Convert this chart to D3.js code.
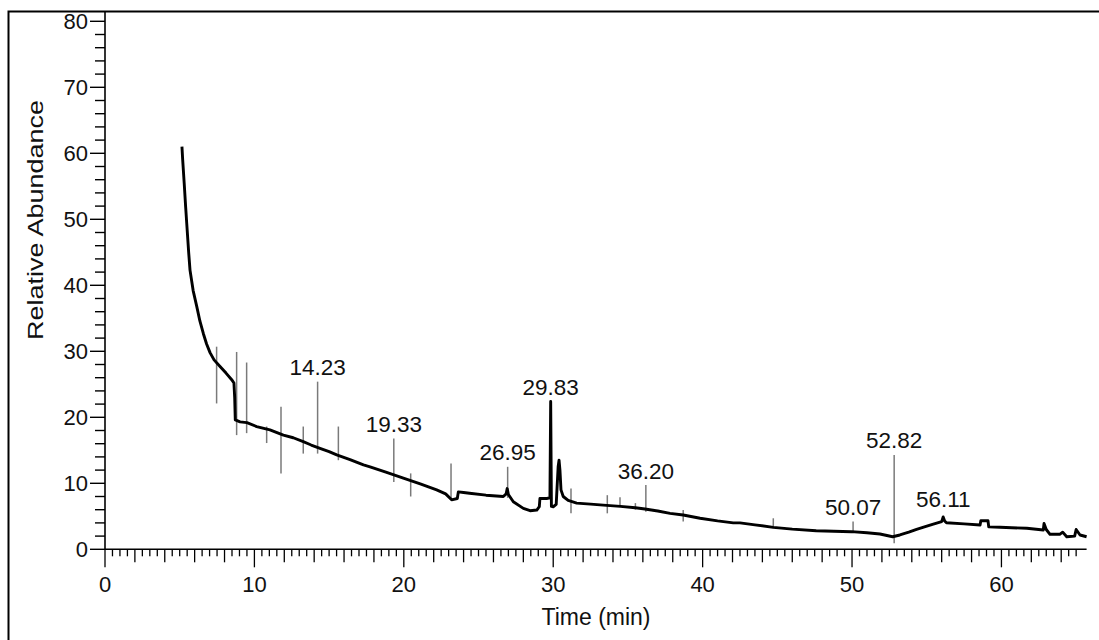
<!DOCTYPE html>
<html>
<head>
<meta charset="utf-8">
<script src="https://cdn.jsdelivr.net/npm/d3@7"></script>
<style>
  html, body { margin: 0; padding: 0; background: #fff; }
  svg { display: block; }
  text { font-family: "Liberation Sans", Arial, sans-serif; fill: #111; }
</style>
</head>
<body>
<svg id="chart" width="1099" height="640"></svg>
<script>
// ---- Data ----
const traceTimes = [5.15, 5.2, 5.3, 5.4, 5.47, 5.6, 5.69, 5.9, 6.14, 6.35, 6.58, 6.8, 7.03, 7.3, 7.7, 8.1, 8.48, 8.63, 8.68, 8.72,
  9.04, 9.5, 10.15, 11.04, 11.94, 12.6, 13.27, 13.8, 14.39, 15.0, 15.51, 16.4, 17.3, 17.74, 18.8, 19.97, 21.1, 22.2, 22.8, 23.2,
  23.58, 23.65, 24.0, 24.4, 25.5, 26.66, 26.85, 26.92, 27.0, 27.33, 28.0, 28.45, 28.9, 29.07, 29.11, 29.56, 29.78, 29.83, 29.88,
  30.0, 30.2, 30.33, 30.39, 30.45, 30.52, 30.67, 31.0, 31.57, 32.5, 33.35, 34.5, 35.5, 36.14, 37.0, 37.82, 38.7, 39.83, 41.0,
  42.05, 42.5, 43.5, 44.73, 46.0, 47.6, 49.96, 51.0, 51.87, 52.72, 53.2, 53.8, 54.32, 54.9, 55.44, 56.0, 56.1, 56.2, 56.32,
  57.5, 58.57, 58.62, 59.1, 59.15, 59.9, 61.7, 62.8, 62.85, 63.0, 63.25, 63.9, 64.1, 64.37, 64.9, 65.0, 65.26, 65.7];
const traceValues = [61.0, 59.0, 55.5, 51.8, 49.4, 45.0, 42.3, 39.2, 36.8, 34.6, 32.7, 31.1, 29.8, 28.7, 27.7, 26.7, 25.7, 25.2, 23.0, 19.6,
  19.3, 19.2, 18.6, 18.1, 17.3, 16.9, 16.3, 15.8, 15.3, 14.8, 14.3, 13.6, 12.8, 12.5, 11.7, 10.8, 9.9, 9.0, 8.4, 7.5,
  7.7, 8.7, 8.6, 8.5, 8.2, 8.0, 8.4, 9.2, 8.3, 7.2, 6.2, 5.85, 5.95, 6.45, 7.7, 7.7, 7.8, 22.4, 6.5,
  6.45, 6.8, 12.5, 13.5, 12.0, 9.0, 8.0, 7.4, 7.0, 6.85, 6.7, 6.5, 6.3, 6.1, 5.8, 5.45, 5.2, 4.7, 4.3,
  4.0, 4.0, 3.7, 3.33, 3.05, 2.82, 2.67, 2.5, 2.32, 1.9, 2.17, 2.6, 3.03, 3.45, 3.83, 4.2, 4.9, 4.3, 4.03,
  3.85, 3.68, 4.33, 4.33, 3.4, 3.33, 3.18, 2.92, 3.9, 3.0, 2.27, 2.27, 2.6, 1.9, 2.0, 3.0, 2.17, 1.9];

// narrow spikes (time, top, bottom)
const spikeTimes   = [7.47, 8.81, 9.48, 10.82, 11.78, 13.27, 14.23, 15.62, 19.33, 20.46, 23.16, 26.95, 31.19, 33.62, 34.47, 35.5, 36.20, 38.7, 44.73, 50.07, 52.82];
const spikeTops    = [30.7, 29.9, 28.3, 18.6, 21.6, 18.6, 25.4, 18.6, 16.8, 11.5, 13.0, 12.5, 9.2, 8.2, 7.9, 7.0, 9.74, 5.95, 4.7, 4.2, 14.3];
const spikeBottoms = [22.1, 17.3, 17.6, 16.1, 11.5, 14.5, 14.5, 13.5, 10.2, 8.0, 7.5, 7.8, 5.45, 5.45, 6.4, 6.0, 5.7, 4.2, 3.2, 2.5, 0.9];

// peak annotations
const peakLabels  = ["14.23", "19.33", "26.95", "29.83", "36.20", "50.07", "52.82", "56.11"];
const peakTimes   = [14.23, 19.33, 26.95, 29.83, 36.20, 50.07, 52.82, 56.11];
const peakHeights = [25.4, 16.8, 12.5, 22.4, 9.74, 4.2, 14.3, 5.4];

const xTickValues = [0, 10, 20, 30, 40, 50, 60];
const yTickValues = [0, 10, 20, 30, 40, 50, 60, 70, 80];
const xLabel = "Time (min)";
const yLabel = "Relative Abundance";

// ---- Layout ----
const svg = d3.select("#chart");
const x = d3.scaleLinear().domain([0, 65.7]).range([105, 1086.6]);
const y = d3.scaleLinear().domain([0, 80]).range([549.3, 21.3]);

// frame
svg.append("rect").attr("x", 8.5).attr("y", 11.5).attr("width", 1200).attr("height", 1000)
  .attr("fill", "none").attr("stroke", "#000").attr("stroke-width", 2);

// Y axis
const yAxisG = svg.append("g");
yAxisG.append("line").attr("x1", 105).attr("x2", 105).attr("y1", 12).attr("y2", y(0))
  .attr("stroke", "#000").attr("stroke-width", 1.6);
const yMinor = d3.range(0, 81, 2).filter(v => v % 10 !== 0);
yAxisG.selectAll(".ymin").data(yMinor).enter().append("line")
  .attr("x1", 95).attr("x2", 105).attr("y1", d => y(d)).attr("y2", d => y(d))
  .attr("stroke", "#000").attr("stroke-width", 1.4);
yAxisG.selectAll(".ymaj").data(yTickValues).enter().append("line")
  .attr("x1", 90).attr("x2", 105).attr("y1", d => y(d)).attr("y2", d => y(d))
  .attr("stroke", "#000").attr("stroke-width", 1.4);
yAxisG.selectAll(".ylab").data(yTickValues).enter().append("text")
  .attr("x", 88).attr("y", d => y(d)).attr("dy", "0.36em")
  .attr("text-anchor", "end").attr("font-size", 22).text(d => d);

// X axis
const xAxisG = svg.append("g");
xAxisG.append("line").attr("x1", x(0)).attr("x2", x(65.7)).attr("y1", y(0)).attr("y2", y(0))
  .attr("stroke", "#000").attr("stroke-width", 1.6);
const xAll = d3.range(0, 131).map(i => i * 0.5).filter(t => t <= 65.5);
xAxisG.selectAll(".xt").data(xAll).enter().append("line")
  .attr("x1", d => x(d)).attr("x2", d => x(d))
  .attr("y1", y(0))
  .attr("y2", d => y(0) + (d % 10 === 0 ? 18 : (d % 2 === 0 ? 13 : 7)))
  .attr("stroke", "#000").attr("stroke-width", 1.3);
xAxisG.selectAll(".xlab").data(xTickValues).enter().append("text")
  .attr("x", d => x(d)).attr("y", 591.5)
  .attr("text-anchor", "middle").attr("font-size", 22).text(d => d);

// axis titles
svg.append("text").attr("x", 596).attr("y", 625).attr("text-anchor", "middle")
  .attr("font-size", 23).text(xLabel);
svg.append("text").attr("transform", "translate(43,220) rotate(-90)")
  .attr("text-anchor", "middle").attr("font-size", 22.5)
  .attr("textLength", 240).attr("lengthAdjust", "spacingAndGlyphs").text(yLabel);

// spikes
svg.append("g").selectAll("line").data(spikeTimes).enter().append("line")
  .attr("x1", d => x(d)).attr("x2", d => x(d))
  .attr("y1", (d, i) => y(spikeTops[i])).attr("y2", (d, i) => y(spikeBottoms[i]))
  .attr("stroke", "#7a7a7a").attr("stroke-width", 1.5);

// trace
const pts = traceTimes.map((t, i) => [t, traceValues[i]]);
const line = d3.line().x(d => x(d[0])).y(d => y(d[1]));
svg.append("path").datum(pts).attr("d", line)
  .attr("fill", "none").attr("stroke", "#000").attr("stroke-width", 2.9)
  .attr("stroke-linejoin", "round");

// peak labels
svg.append("g").selectAll("text").data(peakLabels).enter().append("text")
  .attr("x", (d, i) => x(peakTimes[i]))
  .attr("y", (d, i) => y(peakHeights[i]) - 6.5)
  .attr("text-anchor", "middle").attr("font-size", 22.5).text(d => d);
</script>
</body>
</html>
